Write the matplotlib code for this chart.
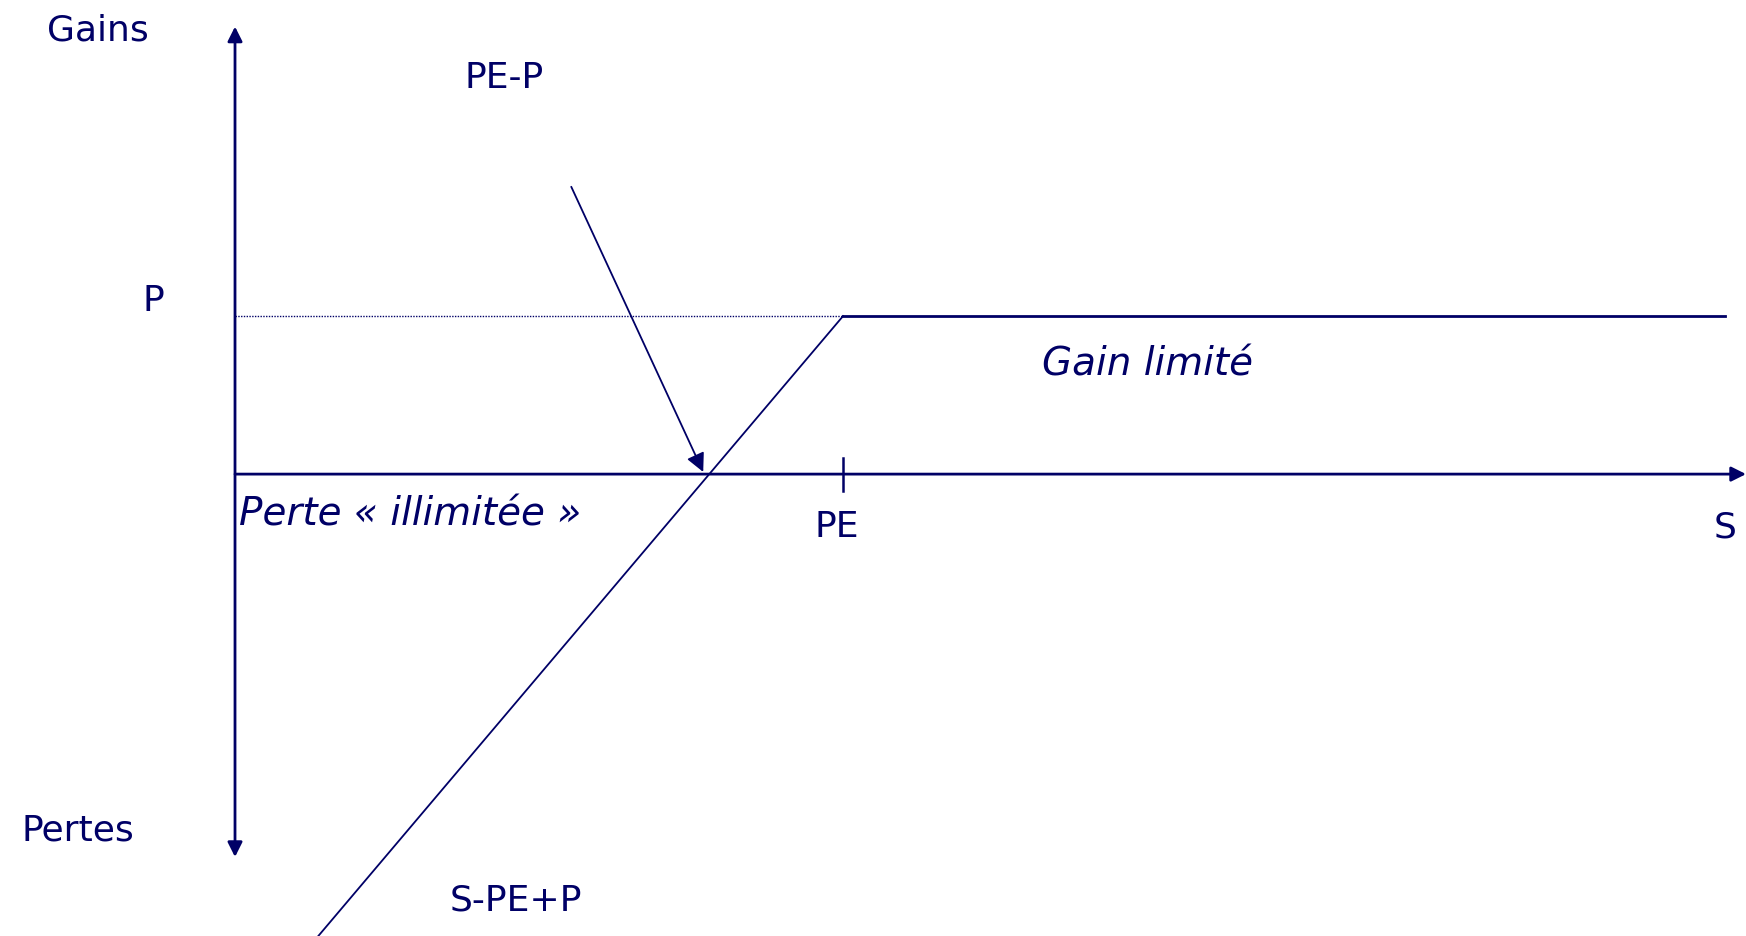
import matplotlib
matplotlib.use("Agg")
import matplotlib.pyplot as plt

# short put payoff diagram (PE = exercise price, P = premium)
PE = 100
P = 22
s_pts = [13, PE, 245]          # underlying price S
gain_pts = [-65, P, P]         # payoff of the position
breakeven = 77                 # PE - P

navy = "#000066"
fs = 26

fig = plt.figure(figsize=(17.46, 9.36), dpi=100)
ax = fig.add_axes([0, 0, 1, 1])
ax.set_xlim(-38.65, 248.5)
ax.set_ylim(-64.3, 66.0)
ax.axis("off")

# axes with arrow heads
ax.annotate("", xy=(0, 62.3), xytext=(0, -53.3),
            arrowprops=dict(arrowstyle="<|-|>", color=navy, lw=2.0,
                            mutation_scale=22, shrinkA=0, shrinkB=0))
ax.annotate("", xy=(248.5, 0), xytext=(0, 0),
            arrowprops=dict(arrowstyle="-|>", color=navy, lw=2.0,
                            mutation_scale=22, shrinkA=0, shrinkB=0))

# dotted premium level and tick at PE
ax.plot([0, PE], [P, P], color=navy, lw=1.0, ls=(0, (1, 1)))
ax.plot([PE, PE], [2.2, -2.4], color=navy, lw=1.8)

# payoff
ax.plot(s_pts[:2], gain_pts[:2], color=navy, lw=1.3)
ax.plot(s_pts[1:], gain_pts[1:], color=navy, lw=2.0)

# arrow to breakeven
ax.annotate("", xy=(breakeven, 0.3), xytext=(55.3, 40.0),
            arrowprops=dict(arrowstyle="-|>", color=navy, lw=1.3,
                            mutation_scale=28, shrinkA=0, shrinkB=0))

kw = dict(color=navy, fontsize=fs, ha="center", va="center")
ax.text(-22.5, 61.7, "Gains", **kw)
ax.text(-25.8, -49.6, "Pertes", **kw)
ax.text(-13.5, 24.1, "P", **kw)
ax.text(44.2, 55.2, "PE-P", **kw)
ax.text(99, -7.4, "PE", **kw)
ax.text(245, -7.4, "S", **kw)
ax.text(46.2, -59.3, "S-PE+P", **kw)
ax.text(150, 15.2, "Gain limité", style="italic", color=navy,
        fontsize=28, ha="center", va="center")
ax.text(0.7, -5.6, "Perte « illimitée »", style="italic", color=navy,
        fontsize=28, ha="left", va="center")

fig.savefig("out.png", dpi=100)
